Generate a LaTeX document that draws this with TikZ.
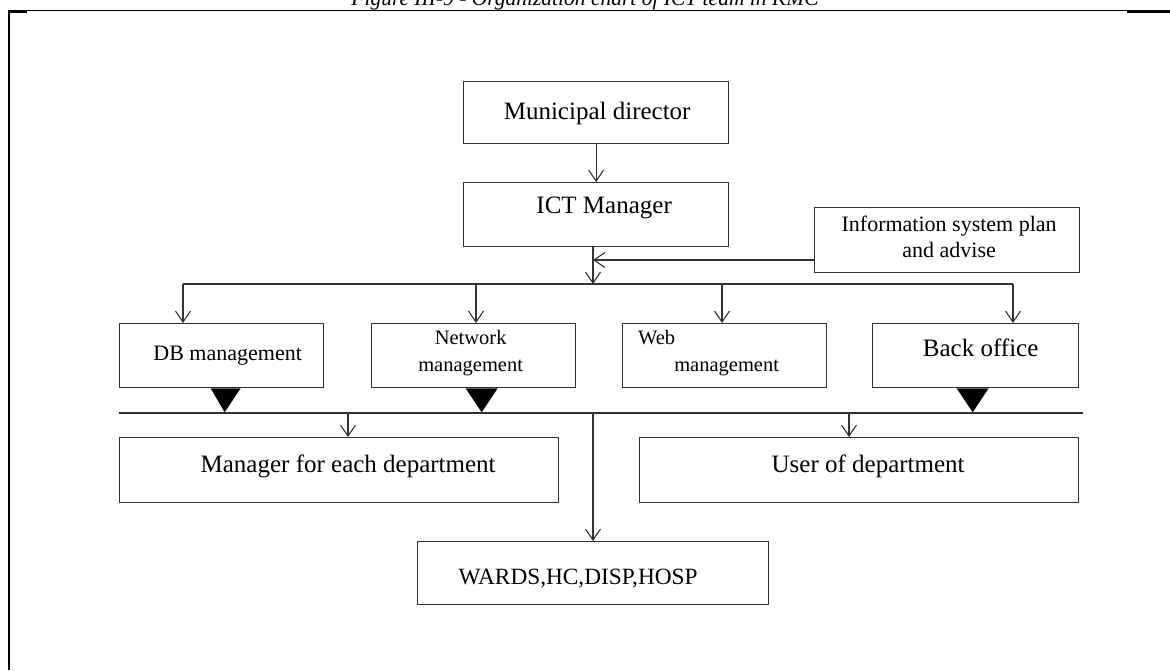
\documentclass[tikz,border=0pt]{standalone}
\usepackage{fontspec}
\setmainfont{Liberation Serif}
\usetikzlibrary{arrows.meta}
\begin{document}
\begin{tikzpicture}[x=1pt,y=-1pt,
  box/.style={draw=black!80, line width=1.3pt, rectangle, anchor=north west, inner sep=0pt},
  conn/.style={draw=black!80, line width=1.2pt},
  arr/.style={conn, -{Straight Barb[length=11pt,width=15pt,line width=1.1pt]}},
  tri/.style={fill=black},
  big/.style={font=\fontsize{25}{28}\selectfont},
  mid/.style={font=\fontsize{22}{26}\selectfont},
  small/.style={font=\fontsize{20.5}{27}\selectfont},
]
\useasboundingbox (0,0) rectangle (1170,670);

% caption, cut by the page edge
\node[anchor=base, font=\itshape\fontsize{21.5}{24}\selectfont] (title) at (585,5)
  {Figure III-9 - Organization chart of ICT team in KMC};

% frame
\draw[line width=1.2pt] (27,10.8) -- (1127,10.8);
\draw[line width=2.4pt] (8,11.4) -- (27,11.4);
\draw[line width=2.4pt] (1127,11.4) -- (1170,11.4);
\draw[line width=2.2pt] (8.8,10.2) -- (8.8,670);

% boxes
\node[box, minimum width=265pt, minimum height=62pt,
      label={[big, name=tdir, yshift=-1pt, xshift=1pt]center:Municipal director}] (dir) at (463,81) {};
\node[box, minimum width=265pt, minimum height=64pt,
      label={[big, name=tict, yshift=7pt, xshift=8pt]center:ICT Manager}] (ict) at (463,182) {};
\node[box, minimum width=265pt, minimum height=65pt,
      label={[mid, name=tinfo, align=center, xshift=2pt, yshift=3pt]center:Information system plan\\and advise}] (info) at (814,207) {};

\node[box, minimum width=204pt, minimum height=64pt,
      label={[mid, name=tdb, xshift=6pt]center:DB management}] (db) at (119,323) {};
\node[box, minimum width=204pt, minimum height=64pt,
      label={[small, name=tnet, align=center, xshift=-3pt, yshift=3pt]center:Network\\management}] (net) at (371,323) {};
\node[box, minimum width=204pt, minimum height=64pt,
      label={[small, name=tweb, align=center, xshift=2pt, yshift=3pt]center:Web\hspace*{140pt}\\management}] (web) at (622,323) {};
\node[box, minimum width=206pt, minimum height=64pt,
      label={[big, name=tback, xshift=5pt, yshift=8pt]center:Back office}] (back) at (872,323) {};

\node[box, minimum width=439pt, minimum height=65pt,
      label={[big, name=tmgr, xshift=9pt, yshift=4pt]center:Manager for each department}] (mgr) at (119,437) {};
\node[box, minimum width=439pt, minimum height=65pt,
      label={[big, name=tusr, xshift=9pt, yshift=4pt]center:User of department}] (usr) at (639,437) {};
\node[box, minimum width=351pt, minimum height=63pt,
      label={[font=\fontsize{23.3}{26}\selectfont, name=tward, xshift=-15pt, yshift=-5pt]center:WARDS,HC,DISP,HOSP}] (wards) at (417,541) {};

% junction points
\coordinate (j1) at (593,284);
\coordinate (a1) at (593,260);
\coordinate (bl) at (183,284);
\coordinate (b2) at (476,284);
\coordinate (b3) at (722,284);
\coordinate (br) at (1013,284);
\coordinate (busl) at (119,413);
\coordinate (busr) at (1083,413);
\coordinate (d1) at (348,413);
\coordinate (d2) at (593,413);
\coordinate (d3) at (849,413);

% top of the chart
\draw[arr] (dir.south) -- (ict.north);
\draw[arr] (ict.south -| j1) -- (j1);
\draw[arr] (info.west |- a1) -- (a1);

% branch to the four teams
\draw[conn] (bl) -- (br);
\draw[arr] (bl) -- (bl |- db.north);
\draw[arr] (b2) -- (b2 |- net.north);
\draw[arr] (b3) -- (b3 |- web.north);
\draw[arr] (br) -- (br |- back.north);

% triangles onto the bus line
\fill[tri] ([xshift=-11pt]db.south) -- ([xshift=19pt]db.south) -- ([xshift=3pt,yshift=-24pt]db.south) -- cycle;
\fill[tri] ([xshift=-8pt]net.south) -- ([xshift=24pt]net.south) -- ([xshift=8pt,yshift=-24pt]net.south) -- cycle;
\fill[tri] ([xshift=-19pt]back.south) -- ([xshift=13pt]back.south) -- ([xshift=-3pt,yshift=-24pt]back.south) -- cycle;

% bus line and drops
\draw[conn] (busl) -- (busr);
\draw[arr] (d1) -- (d1 |- mgr.north);
\draw[arr] (d2) -- (d2 |- wards.north);
\draw[arr] (d3) -- (d3 |- usr.north);
\end{tikzpicture}
\end{document}
